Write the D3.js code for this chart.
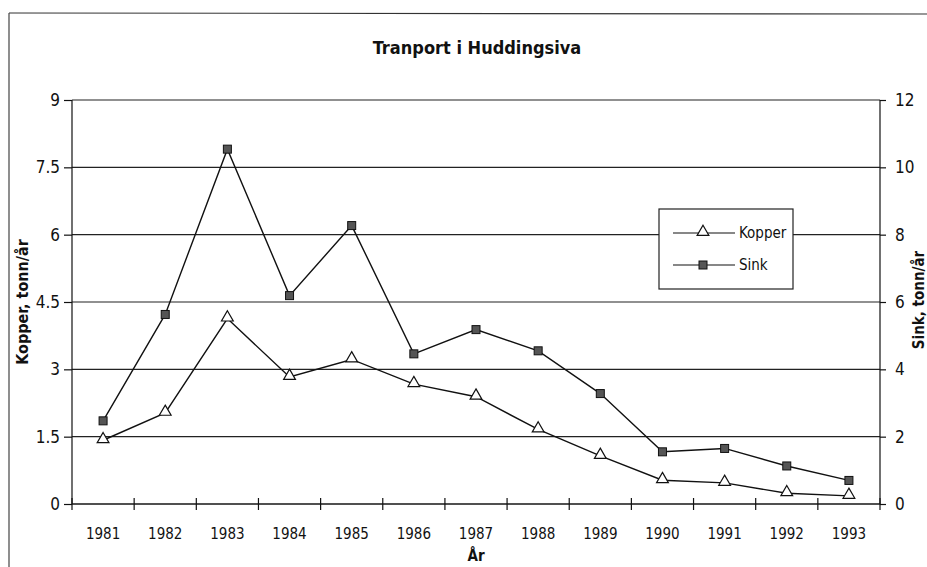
<!DOCTYPE html>
<html>
<head>
<meta charset="utf-8">
<script src="https://cdn.jsdelivr.net/npm/d3@7"></script>
<style>
  body { margin: 0; background: #fff; }
  text { font-family: "Liberation Sans Narrow", "DejaVu Sans Condensed", sans-serif; fill: #111; }
</style>
</head>
<body>
<div id="chart"></div>
<script>
var years = ["1981","1982","1983","1984","1985","1986","1987","1988","1989","1990","1991","1992","1993"]
var kopper = [1.42, 2.03, 4.13, 2.83, 3.22, 2.67, 2.39, 1.66, 1.07, 0.53, 0.47, 0.24, 0.18]
var sink = [2.47, 5.63, 10.54, 6.19, 8.27, 4.46, 5.18, 4.55, 3.28, 1.55, 1.65, 1.13, 0.70]
var leftTicks = [0, 1.5, 3, 4.5, 6, 7.5, 9]
var rightTicks = [0, 2, 4, 6, 8, 10, 12]

var W = 927, H = 567
var margin = {top: 100, right: 47, bottom: 63, left: 72}
var width = W - margin.left - margin.right
var height = H - margin.top - margin.bottom

var svg = d3.select("#chart").append("svg")
  .attr("width", W)
  .attr("height", H)

// outer frame (top + left edge of the scanned page)
svg.append("line").attr("x1", 9).attr("y1", 13).attr("x2", W).attr("y2", 14)
  .attr("stroke", "#333").attr("stroke-width", 1.2)
svg.append("line").attr("x1", 9).attr("y1", 13).attr("x2", 9).attr("y2", H)
  .attr("stroke", "#444").attr("stroke-width", 1.2)

svg.append("text")
  .attr("x", 477).attr("y", 54)
  .attr("text-anchor", "middle")
  .style("font-size", "18px").style("font-weight", "bold")
  .text("Tranport i Huddingsiva")

var g = svg.append("g")
  .attr("transform", "translate(" + margin.left + "," + margin.top + ")")

var x = d3.scaleBand().domain(years).range([0, width])
var yL = d3.scaleLinear().domain([0, 9]).range([height, 0])
var yR = d3.scaleLinear().domain([0, 12]).range([height, 0])

// gridlines
g.append("g").selectAll("line").data(leftTicks).join("line")
  .attr("x1", 0).attr("x2", width)
  .attr("y1", d => yL(d)).attr("y2", d => yL(d))
  .attr("stroke", "#222").attr("stroke-width", 1.2)

// left axis
var axL = g.append("g").call(d3.axisLeft(yL).tickValues(leftTicks).tickSize(8).tickPadding(4).tickFormat(d3.format("")))
axL.selectAll("text").style("font-size", "17px").attr("font-family", null)
axL.selectAll("line, path").attr("stroke", "#111").attr("stroke-width", 1.2)
axL.select(".domain").attr("d", "M0," + height + "V0")

// right axis
var axR = g.append("g").attr("transform", "translate(" + width + ",0)")
  .call(d3.axisRight(yR).tickValues(rightTicks).tickSize(6).tickPadding(9))
axR.selectAll("text").style("font-size", "17px").attr("font-family", null)
axR.selectAll("line, path").attr("stroke", "#111").attr("stroke-width", 1.2)
axR.select(".domain").attr("d", "M0," + height + "V0")

// bottom axis: ticks between categories, crossing the axis
var axB = g.append("g").attr("transform", "translate(0," + height + ")")
  .call(d3.axisBottom(x).tickSize(0).tickPadding(24))
axB.selectAll("text").style("font-size", "15px").attr("font-family", null)
axB.select(".domain").attr("stroke", "#111").attr("stroke-width", 1.2).attr("d", "M0,0H" + width)
axB.selectAll("line.sep").data(d3.range(years.length + 1)).join("line")
  .attr("class", "sep")
  .attr("x1", i => i * x.step()).attr("x2", i => i * x.step())
  .attr("y1", -6).attr("y2", 6)
  .attr("stroke", "#111").attr("stroke-width", 1.2)

var cx = d => x(d) + x.bandwidth() / 2

var lineK = d3.line().x((d, i) => cx(years[i])).y(d => yL(d))
var lineS = d3.line().x((d, i) => cx(years[i])).y(d => yR(d))

g.append("path").datum(sink).attr("d", lineS)
  .attr("fill", "none").attr("stroke", "#111").attr("stroke-width", 1.4)
g.append("path").datum(kopper).attr("d", lineK)
  .attr("fill", "none").attr("stroke", "#111").attr("stroke-width", 1.4)

var tri = d3.symbol().type(d3.symbolTriangle).size(60)

function square(sel, px, py) {
  sel.append("rect")
    .attr("x", px - 4).attr("y", py - 4).attr("width", 8).attr("height", 8)
    .attr("fill", "#555").attr("stroke", "#111").attr("stroke-width", 1)
}
function triangle(sel, px, py) {
  sel.append("path").attr("d", tri)
    .attr("transform", "translate(" + px + "," + (py - 1) + ")")
    .attr("fill", "#fff").attr("stroke", "#111").attr("stroke-width", 1.2)
}

sink.forEach((v, i) => square(g, cx(years[i]), yR(v)))
kopper.forEach((v, i) => triangle(g, cx(years[i]), yL(v)))

// axis titles
svg.append("text")
  .attr("transform", "translate(28,302) rotate(-90)")
  .attr("text-anchor", "middle")
  .style("font-size", "16px").style("font-weight", "bold")
  .text("Kopper, tonn/år")

svg.append("text")
  .attr("transform", "translate(924,300) rotate(-90)")
  .attr("text-anchor", "middle")
  .style("font-size", "15px").style("font-weight", "bold")
  .text("Sink, tonn/år")

svg.append("text")
  .attr("x", 476).attr("y", 561)
  .attr("text-anchor", "middle")
  .style("font-size", "15px").style("font-weight", "bold")
  .text("År")

// legend
var lg = svg.append("g")
lg.append("rect")
  .attr("x", 659).attr("y", 209).attr("width", 134).attr("height", 80)
  .attr("fill", "#fff").attr("stroke", "#222").attr("stroke-width", 1.2)

var legendItems = [["Kopper", triangle], ["Sink", square]]
legendItems.forEach((it, i) => {
  var ly = 233 + i * 32
  lg.append("line").attr("x1", 673).attr("x2", 735).attr("y1", ly).attr("y2", ly)
    .attr("stroke", "#111").attr("stroke-width", 1.2)
  it[1](lg, 703, ly)
  lg.append("text").attr("x", 739).attr("y", ly + 5)
    .style("font-size", "15px").text(it[0])
})
</script>
</body>
</html>
